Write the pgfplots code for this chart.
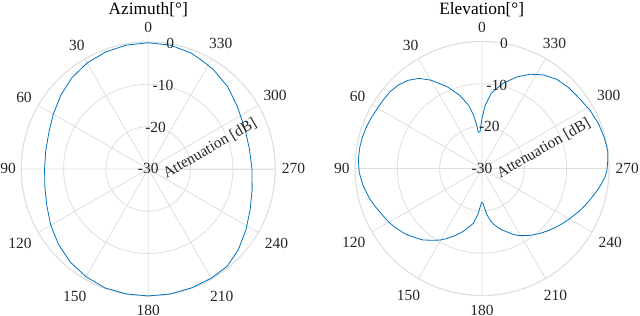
\documentclass[border=0pt]{standalone}
\usepackage{fontspec}
\setmainfont{Liberation Serif}
\usepackage{pgfplots}
\pgfplotsset{compat=1.18}
\usepackage{pgfplotstable}
\usepgfplotslibrary{polar}
\definecolor{gridc}{HTML}{DEDEDE}
\definecolor{tickc}{HTML}{262626}
\definecolor{linec}{HTML}{0072BD}
\newcommand\tfs{\fontsize{11.6pt}{13pt}\selectfont}
\newcommand\ttl{\fontsize{13pt}{15pt}\selectfont}

\pgfplotstableread{
theta dB
0 -0.2
10 -0.3
20 -0.6
30 -1.1
40 -1.9
50 -3.0
60 -4.1
70 -5.0
80 -5.4
90 -5.5
100 -5.2
110 -4.5
120 -3.4
130 -2.3
140 -1.3
150 -0.6
160 -0.1
170 0
180 0
190 0
200 -0.1
210 -0.2
219 -0.4
228 -1.4
238 -2.8
248 -4.05
259 -5.0
270 -5.5
281 -5.65
292 -5.3
305 -4.3
316 -3.0
327 -1.9
335 -1.3
340 -0.8
350 -0.3
360 -0.2
}\azdata

\pgfplotstableread{
theta dB
5.8 -21.4
7 -19.6
9 -17.2
12 -14.7
17 -11.9
23 -9.0
26.5 -7.6
30 -5.9
35 -4.0
40 -2.8
45 -2.1
50 -1.7
55 -1.6
60 -1.5
65 -1.25
70 -1.0
75 -0.8
80 -0.7
86 -0.7
92 -1.0
98 -1.6
105 -2.5
110 -3.3
114 -3.9
120 -4.6
124 -5.2
130 -6.1
134 -6.9
140 -8.0
145 -9.3
150 -10.5
153 -11.4
158 -12.9
163 -14.4
167 -15.7
171 -16.9
175.3 -19.4
178.4 -21.6
180 -22.0
181.5 -21.8
186 -19.1
189 -17.6
192 -16.5
197 -15.0
200 -14.3
205 -12.9
208 -12.1
212 -11.3
216 -10.5
221 -9.6
226 -8.7
231 -7.8
236 -6.9
241 -6.0
246 -5.0
250 -4.2
253 -3.6
257 -2.8
260 -2.1
263 -1.5
266 -0.9
269 -0.5
274 -0.2
278 0.0
284 -0.2
291 -0.5
298 -1.0
305 -1.6
313 -2.0
320 -2.5
327 -3.6
333 -5.0
339 -6.8
346 -9.2
353 -12.1
357 -15.0
360 -18.1
363.1 -21.3
365.8 -21.4
}\eldata

\pgfplotsset{myp/.style={
  scale only axis, width=190.5pt, height=190.5pt,
  xmin=0, xmax=360, ymin=0, ymax=30,
  xtick={0,30,...,330}, ytick={0,10,20,30},
  xticklabels={}, yticklabels={},
  xmajorgrids, ymajorgrids,
  major grid style={draw=gridc, line width=0.6pt},
  axis line style={draw=gridc, line width=0.6pt},
  major tick length=0pt,
  clip=false, anchor=center,
}}

\newcommand\decor{%
  \node[text=tickc,font=\tfs] at (axis cs:90,33.4) {0};
  \node[text=tickc,font=\tfs] at (axis cs:120,33.7) {30};
  \node[text=tickc,font=\tfs] at (axis cs:150,33.9) {60};
  \node[text=tickc,font=\tfs] at (axis cs:180,33.1) {90};
  \node[text=tickc,font=\tfs] at (axis cs:210,35.0) {120};
  \node[text=tickc,font=\tfs] at (axis cs:240,34.7) {150};
  \node[text=tickc,font=\tfs] at (axis cs:270,33.5) {180};
  \node[text=tickc,font=\tfs] at (axis cs:300,34.7) {210};
  \node[text=tickc,font=\tfs] at (axis cs:330,35.0) {240};
  \node[text=tickc,font=\tfs] at (axis cs:0,34.3) {270};
  \node[text=tickc,font=\tfs] at (axis cs:30,34.6) {300};
  \node[text=tickc,font=\tfs] at (axis cs:60,34.2) {330};
  \node[text=tickc,font=\tfs] at (axis cs:80,30) {0};
  \node[text=tickc,font=\tfs] at (axis cs:80,20) {-10};
  \node[text=tickc,font=\tfs] at (axis cs:80,10) {-20};
  \node[text=tickc,font=\tfs] at (axis cs:80,0) {-30};
  \node[text=tickc,font=\tfs,rotate=30] at (axis cs:18.3,15.35) {Attenuation [dB]};
}

\begin{document}
\begin{tikzpicture}
\path[use as bounding box] (0,0) rectangle (480pt,237pt);
\begin{polaraxis}[myp, at={(111.2pt,110.3pt)}]
\addplot[linec, line width=0.6pt] table[x expr=\thisrow{theta}+90, y expr=\thisrow{dB}+30] {\azdata};
\decor
\end{polaraxis}
\begin{polaraxis}[myp, at={(361.5pt,110.6pt)}]
\addplot[linec, line width=0.6pt] table[x expr=\thisrow{theta}+90, y expr=\thisrow{dB}+30] {\eldata};
\decor
\end{polaraxis}
\node[font=\ttl, anchor=base] at (111.2pt,226.1pt) {Azimuth[°]};
\node[font=\ttl, anchor=base] at (361.3pt,226.1pt) {Elevation[°]};
\end{tikzpicture}
\end{document}
